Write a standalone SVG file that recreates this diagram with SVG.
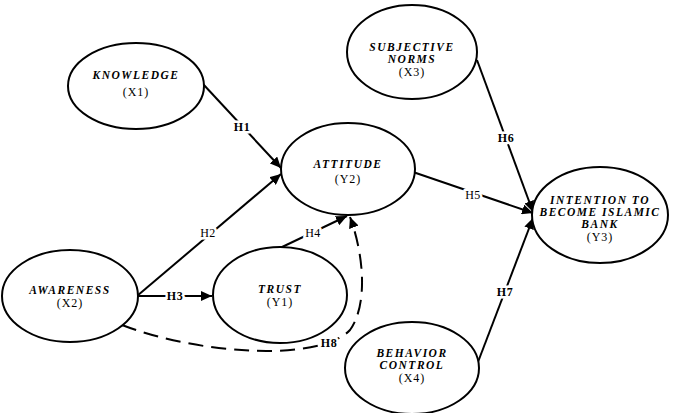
<svg xmlns="http://www.w3.org/2000/svg" width="687" height="413" viewBox="0 0 687 413">
<style>
.node ellipse{fill:#fff;stroke:#000;stroke-width:2}
.t{font-family:"Liberation Serif","Times New Roman",serif;font-size:11.5px;text-anchor:middle;fill:#000}
.n{font-weight:bold;font-style:italic;letter-spacing:1.5px}
.c{letter-spacing:1px;font-size:12px}
.e{stroke:#000;stroke-width:2;fill:none}
.d{stroke-dasharray:15 8}
.lbl{font-family:"Liberation Serif","Times New Roman",serif;font-size:12px;font-weight:bold;text-anchor:middle;letter-spacing:0.5px;fill:#000;paint-order:stroke;stroke:#fff;stroke-width:5px;stroke-linejoin:round}
.lr{font-weight:normal}
</style>
<defs>
<marker id="ah" markerUnits="userSpaceOnUse" markerWidth="12" markerHeight="10" refX="11" refY="5" orient="auto">
<path d="M0,0 L11,5 L0,10 z" fill="#000"/>
</marker>
</defs>
<rect width="687" height="413" fill="#fff"/>
<g id="connectors">
<line class="e" x1="203" y1="84" x2="281" y2="168" marker-end="url(#ah)"/>
<line class="e" x1="137" y1="296" x2="281" y2="174" marker-end="url(#ah)"/>
<line class="e" x1="137" y1="296" x2="212" y2="296" marker-end="url(#ah)"/>
<line class="e" x1="280" y1="248" x2="347" y2="216" marker-end="url(#ah)"/>
<line class="e" x1="413" y1="172" x2="533" y2="213" marker-end="url(#ah)"/>
<line class="e" x1="477" y1="60" x2="533" y2="212" marker-end="url(#ah)"/>
<line class="e" x1="478" y1="362" x2="533" y2="218" marker-end="url(#ah)"/>
<path class="e d" d="M122,325 C200,355 320,362 350,330 C368,305 364,255 350,217" marker-end="url(#ah)"/>
<text class="lbl" x="242" y="131">H1</text>
<text class="lbl lr" x="208" y="237">H2</text>
<text class="lbl" x="175" y="300">H3</text>
<text class="lbl lr" x="313" y="237">H4</text>
<text class="lbl lr" x="473" y="199">H5</text>
<text class="lbl" x="506" y="142">H6</text>
<text class="lbl" x="505" y="296">H7</text>
<text class="lbl" x="329" y="347">H8</text>
</g>
<g id="knowledge" class="node">
<ellipse cx="136" cy="86" rx="68" ry="43"/>
<text class="t n" x="136" y="79">KNOWLEDGE</text>
<text class="t c" x="136" y="96">(X1)</text>
</g>
<g id="attitude" class="node">
<ellipse cx="348" cy="169" rx="67" ry="46"/>
<text class="t n" x="348" y="168">ATTITUDE</text>
<text class="t c" x="348" y="183">(Y2)</text>
</g>
<g id="subjective-norms" class="node">
<ellipse cx="412" cy="52" rx="65" ry="47"/>
<text class="t n" x="412" y="51">SUBJECTIVE</text>
<text class="t n" x="412" y="62.5">NORMS</text>
<text class="t c" x="412" y="76">(X3)</text>
</g>
<g id="intention" class="node">
<ellipse cx="600" cy="215" rx="68" ry="48"/>
<text class="t n" x="600" y="203.5">INTENTION TO</text>
<text class="t n" x="600" y="215.5">BECOME ISLAMIC</text>
<text class="t n" x="600" y="227.5">BANK</text>
<text class="t c" x="600" y="241">(Y3)</text>
</g>
<g id="awareness" class="node">
<ellipse cx="70" cy="296" rx="68" ry="46"/>
<text class="t n" x="70" y="294">AWARENESS</text>
<text class="t c" x="70" y="307">(X2)</text>
</g>
<g id="trust" class="node">
<ellipse cx="280" cy="295" rx="67" ry="48"/>
<text class="t n" x="280" y="293">TRUST</text>
<text class="t c" x="280" y="306">(Y1)</text>
</g>
<g id="behavior-control" class="node">
<ellipse cx="412" cy="368" rx="67" ry="46"/>
<text class="t n" x="412" y="357">BEHAVIOR</text>
<text class="t n" x="412" y="369">CONTROL</text>
<text class="t c" x="412" y="382">(X4)</text>
</g>
</svg>
